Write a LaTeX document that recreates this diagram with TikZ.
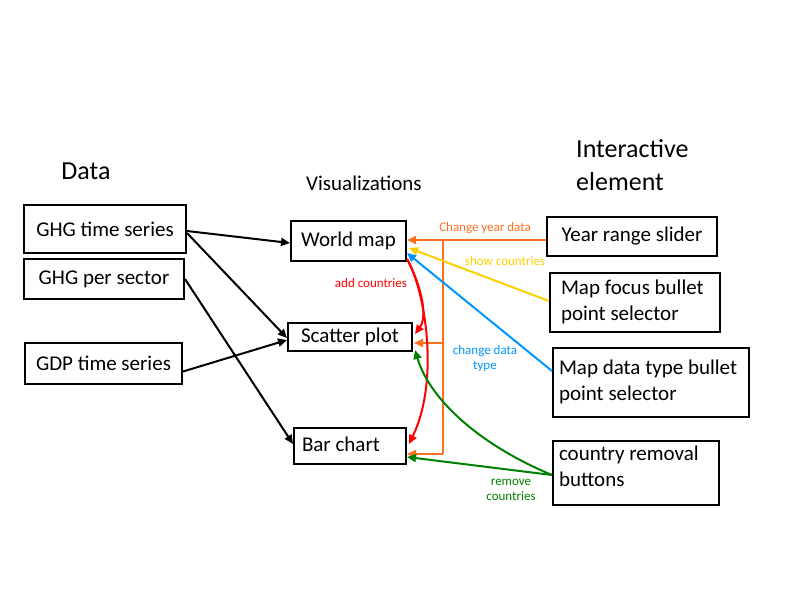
\documentclass[tikz,border=0pt]{standalone}
\usepackage{fontspec}
\setmainfont{Carlito}
\usetikzlibrary{arrows.meta,calc}
\definecolor{orangeA}{RGB}{255,112,30}
\definecolor{yellowA}{RGB}{255,208,0}
\definecolor{blueA}{RGB}{0,150,255}
\definecolor{redA}{RGB}{255,0,0}
\definecolor{greenA}{RGB}{0,128,0}
\newcommand\lbx[2]{\makebox[#1][l]{\begin{tabular}{@{}l@{}}#2\end{tabular}}}
\begin{document}
\begin{tikzpicture}[x=1pt,y=-1pt,
  box/.style={draw,line width=2pt,inner sep=0pt,anchor=north west,font=\fontsize{21}{26}\selectfont},
  con/.style={line width=2pt,-{Triangle[length=9pt,width=8pt]}},
  lbl/.style={inner sep=0pt,font=\fontsize{13}{15}\selectfont,align=center},
  title/.style={inner sep=0pt,font=\fontsize{26}{33}\selectfont}]
\useasboundingbox (0,0) rectangle (800,600);

% titles
\node[title] (tdata) at (86,171) {Data};
\node[inner sep=0pt,font=\fontsize{21}{26}\selectfont] (tvis) at (364,183) {Visualizations};
\node[title,align=left,anchor=north west] (tint) at (576,139) {Interactive\\element};

% data boxes
\node[box,minimum width=162pt,minimum height=48pt] (ghgts) at (23,204) {GHG time series};
\node[box,minimum width=160pt,minimum height=40pt] (ghgps) at (23,258) {GHG per sector};
\node[box,minimum width=157pt,minimum height=41pt] (gdp) at (24,342) {GDP time series};

% visualization boxes
\node[box,minimum width=115pt,minimum height=40pt] (wmap) at (290,220) {World map};
\node[box,minimum width=124pt,minimum height=28pt] (scatter) at (287,322) {Scatter plot};
\node[box,minimum height=36pt,inner xsep=8pt] (bar) at (293,427) {\lbx{96pt}{Bar chart}};

% interactive boxes
\node[box,minimum width=170pt,minimum height=39pt] (slider) at (546,216) {Year range slider};
\node[box,minimum height=59pt,inner xsep=11pt] (focus) at (549,272) {\lbx{148pt}{Map focus bullet\\point selector}};
\node[box,minimum height=69pt,inner xsep=6pt] (dtype) at (552,347) {\lbx{184pt}{Map data type bullet\\point selector}};
\node[box,minimum height=64pt,inner xsep=6pt] (remove) at (552,440) {\lbx{154pt}{country removal\\buttons\rule[-18pt]{0pt}{0pt}}};

% data -> visualizations
\draw[con] ($(ghgts.east)+(0,2)$) -- ($(wmap.west)+(0,2)$);
\draw[con] ($(ghgts.east)+(0,4)$) -- ($(scatter.west)+(0,1)$);
\draw[con] (ghgps.east) -- ($(bar.west)+(0,-2)$);
\draw[con] ($(gdp.east)+(0,8)$) -- ($(scatter.west)+(0,3)$);

% orange: year range slider
\coordinate (ot) at (443,240);
\coordinate (om) at (443,343);
\coordinate (ob) at (443,454);
\draw[con,orangeA] (slider.west |- ot) -- (wmap.east |- ot);
\draw[line width=2pt,orangeA] (ot) -- (ob);
\draw[con,orangeA] (om) -- ($(scatter.east |- om)+(1,0)$);
\draw[con,orangeA] (ob) -- (bar.east |- ob);
\node[lbl,text=orangeA] (lyear) at (485,228) {Change year data};

% yellow: map focus
\draw[con,yellowA] ($(focus.west)+(0,-1.5)$) -- ($(wmap.east)+(2,7)$);
\node[lbl,text=yellowA] (lshow) at (505,261) {show countries};

% blue: map data type
\draw[con,blueA] ($(dtype.west)+(0,-11.5)$) -- ($(wmap.east)+(0,12)$);
\node[lbl,text=blueA] (ltype) at (485,359) {change data\\type};

% red: add countries
\draw[con,redA] ($(wmap.south east)+(0,-3)$) .. controls (421,285) and (428,316) .. ($(scatter.east)+(2,-3)$);
\draw[con,redA] ($(wmap.south east)+(0,-3)$) .. controls (425,290) and (440,380) .. ($(bar.east)+(2,-2)$);
\node[lbl,text=redA] (ladd) at (371,283) {add countries};

% green: remove countries
\draw[con,greenA] ($(remove.west)+(0,2)$) .. controls (480,445) and (430,400) .. ($(scatter.south east)+(2,-2)$);
\draw[con,greenA] ($(remove.west)+(0,2)$) -- ($(bar.east)+(0,11)$);
\node[lbl,text=greenA] (lrem) at (511,490) {remove\\countries};
\end{tikzpicture}
\end{document}
